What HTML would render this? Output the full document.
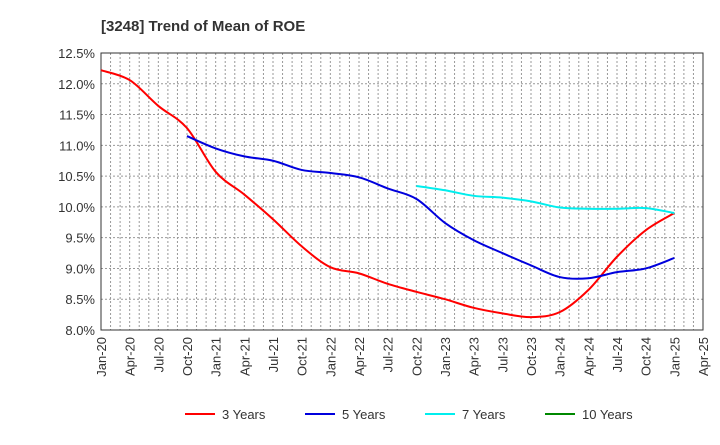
<!DOCTYPE html>
<html><head><meta charset="utf-8"><style>
body{margin:0;background:#fff;font-family:"Liberation Sans",sans-serif;}
svg text{font-family:"Liberation Sans",sans-serif;}
</style></head><body>
<svg id="chart" width="720" height="440" xmlns="http://www.w3.org/2000/svg">
<text x="101" y="31" font-size="15" font-weight="bold" fill="#333">[3248]  Trend of Mean of ROE</text>
<g id="grid"></g>
<g id="axes"></g>
<g id="series"></g>
<g id="legend"></g>
</svg>
<script>
const xLabels=["Jan-20","Apr-20","Jul-20","Oct-20","Jan-21","Apr-21","Jul-21","Oct-21","Jan-22","Apr-22","Jul-22","Oct-22","Jan-23","Apr-23","Jul-23","Oct-23","Jan-24","Apr-24","Jul-24","Oct-24","Jan-25","Apr-25"];
const yTicks=[8.0,8.5,9.0,9.5,10.0,10.5,11.0,11.5,12.0,12.5];
const seriesNames=["3 Years","5 Years","7 Years","10 Years"];
const seriesColors=["#ff0000","#0000dd","#00eeee","#008800"];
const s3=[12.22,12.06,11.64,11.28,10.57,10.2,9.8,9.36,9.02,8.92,8.75,8.62,8.5,8.36,8.27,8.21,8.29,8.65,9.19,9.62,9.9];
const s5=[null,null,null,11.15,10.95,10.82,10.75,10.6,10.55,10.48,10.3,10.13,9.74,9.46,9.25,9.05,8.86,8.84,8.94,9.0,9.17];
const s7=[null,null,null,null,null,null,null,null,null,null,null,10.34,10.27,10.18,10.15,10.09,9.99,9.97,9.97,9.98,9.9];
const s10=[];
const L=101,R=703,T=53,B=330;
const NS="http://www.w3.org/2000/svg";
function X(i){return L+(R-L)*i/21;}
function Y(v){return B-(v-8)*(B-T)/4.5;}
function mk(t,a,p){const e=document.createElementNS(NS,t);for(const k in a)e.setAttribute(k,a[k]);(p||document.getElementById('chart')).appendChild(e);return e;}
const grid=document.getElementById('grid'),axes=document.getElementById('axes'),ser=document.getElementById('series'),leg=document.getElementById('legend');
for(let m=1;m<63;m++){const x=L+(R-L)*m/63;const g=mk('line',{x1:x,x2:x,y1:T,y2:B,stroke:'#999','stroke-dasharray':'2,2','stroke-width':1},grid);

}
yTicks.forEach(v=>{const y=Y(v);const g=mk('line',{x1:L,x2:R,y1:y,y2:y,stroke:'#999','stroke-dasharray':'2,2'},grid);


const t=mk('text',{x:L-6,y:y+5,'text-anchor':'end','font-size':13,fill:'#333'},axes);t.textContent=v.toFixed(1)+'%';

});
const fr=mk('rect',{x:L,y:T,width:R-L,height:B-T,fill:'none',stroke:'#333','stroke-width':1},axes);


xLabels.forEach((s,i)=>{const x=X(i);const t=mk('text',{x:0,y:0,'text-anchor':'end','font-size':13,fill:'#333',transform:`translate(${x+5},${B+7}) rotate(-90)`},axes);t.textContent=s;

});
function path(pts){if(pts.length<2)return '';let d=`M${pts[0][0]},${pts[0][1]}`;for(let i=0;i<pts.length-1;i++){const p0=pts[i-1]||pts[i],p1=pts[i],p2=pts[i+1],p3=pts[i+2]||p2;
d+=` C${p1[0]+(p2[0]-p0[0])/6},${p1[1]+(p2[1]-p0[1])/6} ${p2[0]-(p3[0]-p1[0])/6},${p2[1]-(p3[1]-p1[1])/6} ${p2[0]},${p2[1]}`;}return d;}
[s3,s5,s7,s10].forEach((s,k)=>{const pts=[];s.forEach((v,i)=>{if(v!=null)pts.push([X(i),Y(v)]);});
if(pts.length>1){const p=mk('path',{d:path(pts),fill:'none',stroke:seriesColors[k],'stroke-width':2},ser);

}
const lx=185+k*120;const ln=mk('line',{x1:lx,x2:lx+30,y1:414,y2:414,stroke:seriesColors[k],'stroke-width':2},leg);


const t=mk('text',{x:lx+37,y:419,'font-size':13,fill:'#333'},leg);t.textContent=seriesNames[k];

});
</script>
</body></html>
